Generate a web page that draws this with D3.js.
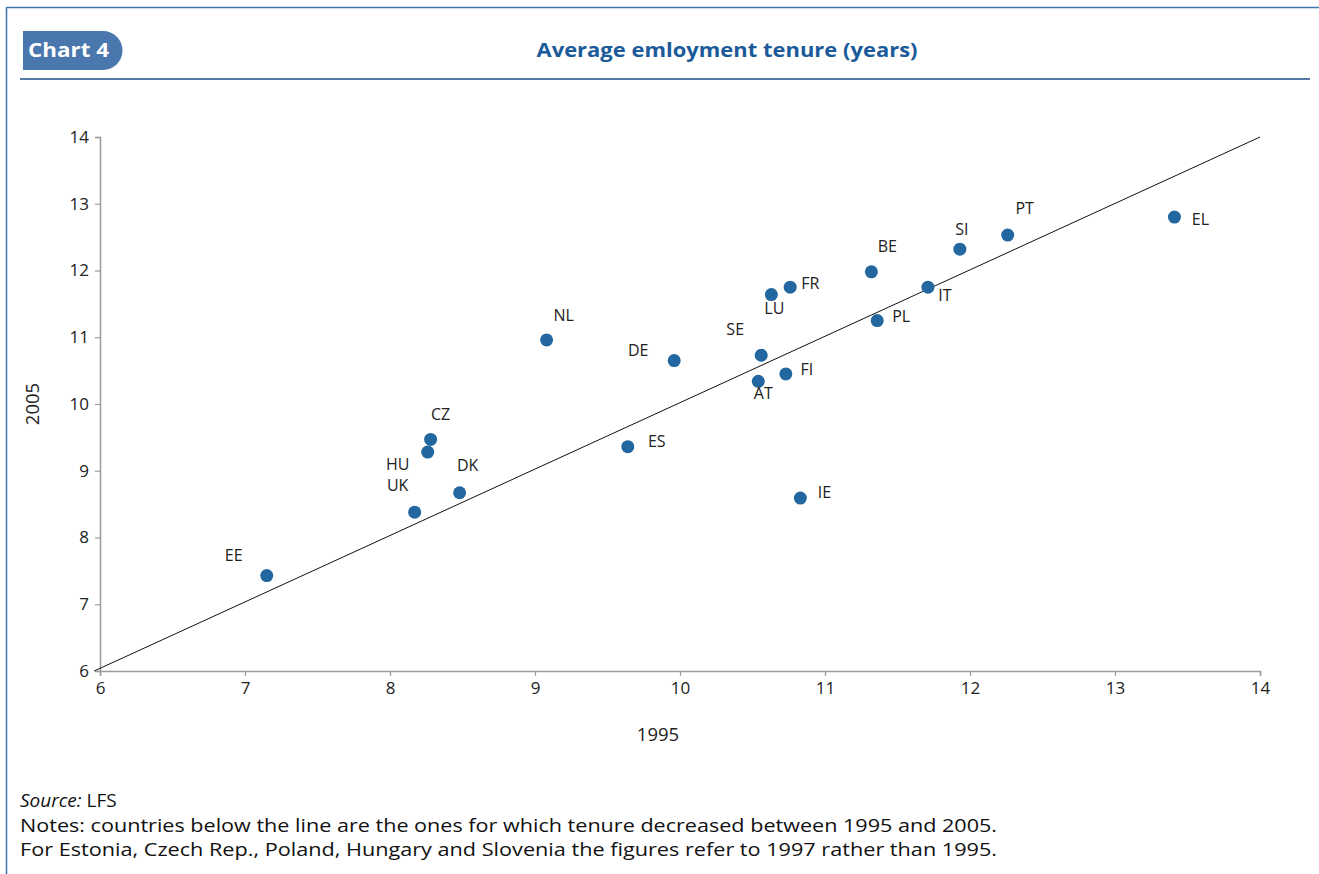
<!DOCTYPE html>
<html>
<head>
<meta charset="utf-8">
<script src="https://cdn.jsdelivr.net/npm/d3@7"></script>
<style>
  html, body { margin: 0; padding: 0; background: #fff; }
  svg { display: block; }
  text { font-family: "Open Sans", "Noto Sans", sans-serif; }
</style>
</head>
<body>
<svg id="chart" width="1319" height="874"></svg>
<script>
// ---- data ----
const countries = ["EE","UK","HU","CZ","DK","NL","ES","DE","SE","AT","FI","LU","FR","IE","BE","PL","IT","SI","PT","EL"];
const tenure1995 = [7.15, 8.17, 8.26, 8.28, 8.48, 9.08, 9.64, 9.96, 10.56, 10.54, 10.73, 10.63, 10.76, 10.83, 11.32, 11.36, 11.71, 11.93, 12.26, 13.41];
const tenure2005 = [7.43, 8.38, 9.28, 9.47, 8.67, 10.96, 9.36, 10.65, 10.73, 10.34, 10.45, 11.64, 11.75, 8.59, 11.98, 11.25, 11.75, 12.32, 12.53, 12.80];
const xTicks = [6, 7, 8, 9, 10, 11, 12, 13, 14];
const yTicks = [6, 7, 8, 9, 10, 11, 12, 13, 14];
const chartLabel = "Chart 4";
const chartTitle = "Average emloyment tenure (years)";
const xTitle = "1995";
const yTitle = "2005";
const sourceLabel = "Source:";
const sourceText = " LFS";
const notes = [
  "Notes: countries below the line are the ones for which tenure decreased between 1995 and 2005.",
  "For Estonia, Czech Rep., Poland, Hungary and Slovenia the figures refer to 1997 rather than 1995."
];

// ---- layout (label offsets from point centre, px) ----
const labelOffset = {
  EE: [-33,-21], UK: [-17,-27], HU: [-30,12], CZ: [10,-25], DK: [8,-28],
  NL: [17,-25], ES: [29,-6], DE: [-36,-11], SE: [-26,-26], AT: [5,12],
  FI: [21,-5], LU: [3,13], FR: [20,-4], IE: [24,-6], BE: [16,-26],
  PL: [24,-5], IT: [17,8], SI: [2,-20], PT: [17,-27], EL: [26,2]
};

const svg = d3.select("#chart");
const frameBlue = "#3f74ad";

// frame
svg.append("line").attr("x1", 7).attr("x2", 1319).attr("y1", 7.5).attr("y2", 7.5)
  .attr("stroke", frameBlue).attr("stroke-width", 1.5);
svg.append("line").attr("x1", 6.5).attr("x2", 6.5).attr("y1", 7).attr("y2", 874)
  .attr("stroke", frameBlue).attr("stroke-width", 1.5);

// badge
svg.append("path")
  .attr("d", "M23,31 H103 A19.5,19.5 0 0 1 103,70 H23 Z")
  .attr("fill", "#4a77ad");
svg.append("text").attr("x", 28).attr("y", 57)
  .attr("fill", "#fff").attr("font-size", 20).attr("font-weight", 700)
  .attr("textLength", 81).attr("lengthAdjust", "spacingAndGlyphs")
  .text(chartLabel);
svg.append("text").attr("x", 727).attr("y", 57).attr("text-anchor", "middle")
  .attr("fill", "#1b5a9a").attr("font-size", 20).attr("font-weight", 700)
  .attr("textLength", 381).attr("lengthAdjust", "spacingAndGlyphs")
  .text(chartTitle);
svg.append("line").attr("x1", 20).attr("x2", 1310).attr("y1", 79).attr("y2", 79)
  .attr("stroke", "#1d4f86").attr("stroke-width", 1.5);

// scales
const x = d3.scaleLinear().domain([6, 14]).range([100, 1260]);
const y = d3.scaleLinear().domain([6, 14]).range([671, 137]);

// axes
const xAxis = svg.append("g").attr("transform", `translate(0,${y(6)})`)
  .call(d3.axisBottom(x).tickValues(xTicks).tickSize(5).tickPadding(4).tickFormat(d3.format("d")));
const yAxis = svg.append("g").attr("transform", `translate(${x(6)},0)`)
  .call(d3.axisLeft(y).tickValues(yTicks).tickSize(5).tickPadding(6).tickFormat(d3.format("d")));
[xAxis, yAxis].forEach(g => {
  g.select(".domain").attr("stroke", "#9a9a9a").attr("stroke-width", 1.5);
  g.selectAll(".tick line").attr("stroke", "#9a9a9a").attr("stroke-width", 1.2);
  g.selectAll(".tick text").attr("fill", "#222").attr("font-size", 17)
    .attr("font-family", "'Open Sans', sans-serif");
});
xAxis.selectAll(".tick text").attr("dy", "0.85em");

// axis titles
svg.append("text").attr("x", 658).attr("y", 741).attr("text-anchor", "middle")
  .attr("fill", "#222").attr("font-size", 18.5).text(xTitle);
svg.append("text").attr("transform", `translate(39,${y(10)}) rotate(-90)`)
  .attr("text-anchor", "middle").attr("fill", "#222").attr("font-size", 18.5).text(yTitle);

// 45-degree line
svg.append("line")
  .attr("x1", x(5.96)).attr("y1", y(6)).attr("x2", x(14)).attr("y2", y(14))
  .attr("stroke", "#111").attr("stroke-width", 1);

// points
const data = countries.map((c, i) => ({ c, a: tenure1995[i], b: tenure2005[i] }));
svg.append("g").selectAll("circle").data(data).join("circle")
  .attr("cx", d => x(d.a)).attr("cy", d => y(d.b)).attr("r", 6.5)
  .attr("fill", "#22679f");
svg.append("g").selectAll("text").data(data).join("text")
  .attr("x", d => x(d.a) + labelOffset[d.c][0])
  .attr("y", d => y(d.b) + labelOffset[d.c][1])
  .attr("text-anchor", "middle").attr("dominant-baseline", "central")
  .attr("fill", "#222").attr("font-size", 16)
  .text(d => d.c);

// footer
const src = svg.append("text").attr("x", 20).attr("y", 807).attr("fill", "#111").attr("font-size", 19);
src.append("tspan").attr("font-style", "italic").text(sourceLabel);
src.append("tspan").text(sourceText);
notes.forEach((t, i) => {
  svg.append("text").attr("x", 20).attr("y", 831.5 + 24.5 * i).attr("fill", "#111")
    .attr("font-size", 19).attr("textLength", 977).attr("lengthAdjust", "spacingAndGlyphs").text(t);
});
</script>
</body>
</html>
